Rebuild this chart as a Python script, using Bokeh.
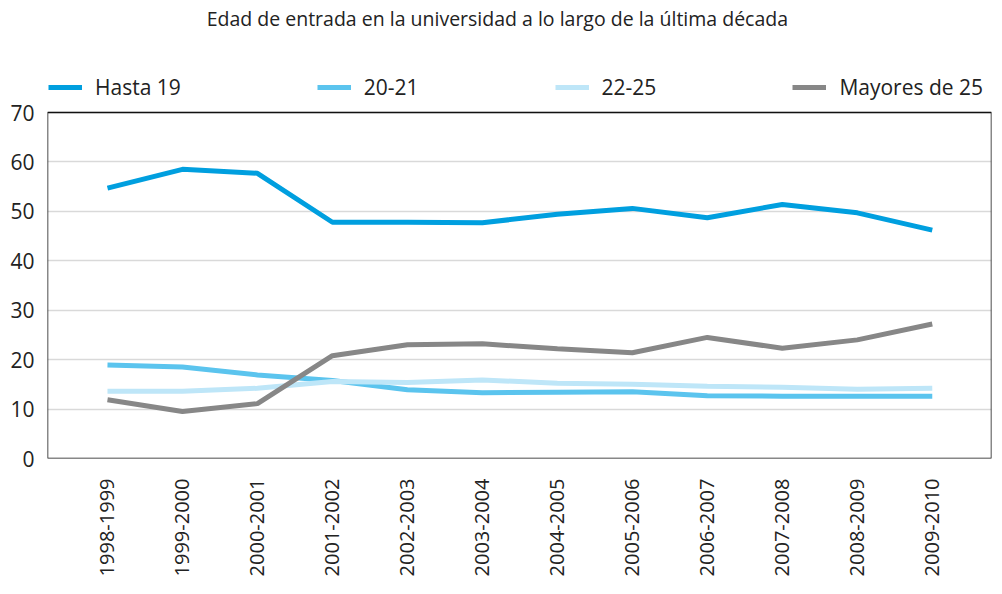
import math
from bokeh.plotting import figure
from bokeh.models import Legend, LegendItem, FixedTicker, Range1d, BoxAnnotation, Label
from bokeh.embed import file_html
from bokeh.resources import INLINE

periods = ["1998-1999", "1999-2000", "2000-2001", "2001-2002", "2002-2003", "2003-2004",
           "2004-2005", "2005-2006", "2006-2007", "2007-2008", "2008-2009", "2009-2010"]
hasta19 = [54.7, 58.5, 57.7, 47.8, 47.8, 47.7, 49.4, 50.6, 48.7, 51.4, 49.7, 46.2]
s20_21 = [18.9, 18.5, 16.9, 15.8, 13.9, 13.3, 13.4, 13.5, 12.7, 12.6, 12.6, 12.6]
s22_25 = [13.6, 13.6, 14.2, 15.6, 15.4, 15.9, 15.2, 15.0, 14.6, 14.4, 14.0, 14.2]
mayores25 = [11.9, 9.5, 11.1, 20.8, 23.0, 23.2, 22.2, 21.4, 24.5, 22.3, 24.0, 27.2]
series_names = ["Hasta 19", "20-21", "22-25", "Mayores de 25"]
colors = ["#009FDF", "#5BC4EE", "#BEE6F8", "#878787"]
y_ticks = [0, 10, 20, 30, 40, 50, 60, 70]
y_max = 70
title_text = "Edad de entrada en la universidad a lo largo de la última década"

FONT = "Open Sans"
xs = list(range(len(periods)))

# the frame reaches the top of the canvas; headroom above 70 holds title and legend,
# the visible box stops at 70
HEAD = 22.66
p = figure(width=994, height=586, output_backend="svg", toolbar_location=None,
           x_range=Range1d(-0.8, len(periods) - 1 + 0.79), y_range=Range1d(0, y_max + HEAD),
           min_border_left=47, min_border_right=3, min_border_top=0, min_border_bottom=128)

p.add_layout(Label(x=5.2, y=y_max + HEAD - 3.64, text=title_text, text_align="center",
                   text_baseline="middle", text_font=FONT, text_font_size="19.5px",
                   text_color="#222222"))

p.add_layout(BoxAnnotation(bottom=0, top=y_max, fill_alpha=0, line_color="#111111",
                           line_alpha=1.0, line_width=1.5, level="overlay"))

renderers = []
for vals, col in zip([hasta19, s20_21, s22_25, mayores25], colors):
    r = p.line(xs, vals, line_color=col, line_width=5)
    renderers.append(r)

legend = Legend(items=[LegendItem(label=n, renderers=[r]) for n, r in zip(series_names, renderers)],
                orientation="horizontal", spacing=136, glyph_width=34,
                label_standoff=13, padding=0, margin=0, border_line_color=None,
                background_fill_alpha=0, label_text_font=FONT, label_text_font_size="21px",
                label_text_color="#222222", location=(1, 357))
p.add_layout(legend, "center")

p.xaxis.ticker = FixedTicker(ticks=xs)
p.xaxis.major_label_overrides = {i: lab for i, lab in enumerate(periods)}
p.xaxis.major_label_orientation = math.pi / 2
p.yaxis.ticker = FixedTicker(ticks=y_ticks)

for ax in [p.xaxis[0], p.yaxis[0]]:
    ax.axis_line_color = None
    ax.major_tick_line_color = None
    ax.minor_tick_line_color = None
    ax.major_tick_out = 0
    ax.major_tick_in = 0
    ax.minor_tick_out = 0
    ax.minor_tick_in = 0
    ax.major_label_text_font = FONT
    ax.major_label_text_font_size = "21px"
    ax.major_label_text_color = "#222222"
p.xaxis.major_label_text_font_size = "20px"
p.xaxis.major_label_standoff = 20
p.yaxis.major_label_standoff = 13

p.xgrid.grid_line_color = None
p.ygrid.grid_line_color = "#D9D9D9"
p.ygrid.grid_line_width = 1.5
p.outline_line_color = None
p.background_fill_color = "white"
p.border_fill_color = "white"

open("out.html", "w").write(file_html(p, INLINE))
